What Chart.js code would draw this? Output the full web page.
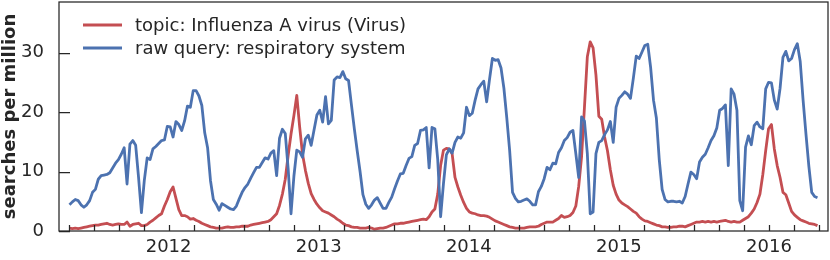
<!DOCTYPE html>
<html>
<head>
<meta charset="utf-8">
<script src="https://cdn.jsdelivr.net/npm/chart.js@4.4.1/dist/chart.umd.min.js"></script>
<style>
  html, body { margin: 0; padding: 0; background: #fff; }
  #wrap { width: 830px; height: 260px; }
</style>
</head>
<body>
<div id="wrap"><canvas id="chart" width="830" height="260"></canvas></div>
<script>
// weekly series, first week early May 2011 (decimal years on the x axis)
const firstWeek = 2011.34
const weekStep = 7 / 365.25

const seriesLabels = ["topic: Influenza A virus (Virus)", "raw query: respiratory system"]
const seriesColors = ["#C44E52", "#4C72B0"]

const influenzaA = [
  0.5, 0.4, 0.5, 0.4, 0.5, 0.6, 0.7, 0.8, 0.9, 1.0,
  1.0, 1.1, 1.2, 1.3, 1.1, 1.0, 1.1, 1.2, 1.1, 1.1,
  1.5, 0.8, 1.1, 1.2, 1.3, 0.9, 0.9, 1.1, 1.5, 1.8,
  2.2, 2.6, 2.9, 4.2, 5.3, 6.6, 7.4, 5.5, 3.6, 2.6,
  2.6, 2.4, 2.0, 2.1, 1.8, 1.6, 1.3, 1.1, 0.9, 0.7,
  0.6, 0.5, 0.5, 0.5, 0.6, 0.7, 0.6, 0.6, 0.7, 0.7,
  0.8, 0.8, 0.8, 1.0, 1.1, 1.2, 1.3, 1.4, 1.5, 1.6,
  1.9, 2.4, 2.9, 4.3, 6.2, 8.7, 12.7, 16.3, 19.4, 22.8,
  17.5, 12.9, 10.2, 8.0, 6.3, 5.3, 4.5, 3.9, 3.4, 3.2,
  3.0, 2.7, 2.4, 2.0, 1.7, 1.3, 1.0, 0.9, 0.7, 0.6,
  0.6, 0.5, 0.5, 0.5, 0.6, 0.5, 0.3, 0.4, 0.5, 0.5,
  0.6, 0.8, 1.0, 1.2, 1.2, 1.3, 1.3, 1.4, 1.5, 1.6,
  1.7, 1.8, 1.9, 2.0, 1.9, 2.4, 3.2, 3.7, 6.2, 11.0,
  13.6, 13.9, 13.8, 13.0, 9.0, 7.4, 6.0, 4.8, 3.8, 3.2,
  3.0, 2.9, 2.7, 2.6, 2.6, 2.5, 2.3, 2.0, 1.7, 1.5,
  1.3, 1.1, 0.9, 0.7, 0.6, 0.5, 0.5, 0.5, 0.5, 0.6,
  0.7, 0.7, 0.7, 0.8, 1.1, 1.3, 1.5, 1.5, 1.5, 1.8,
  2.1, 2.6, 2.3, 2.4, 2.6, 3.1, 4.2, 7.5, 12.5, 20.8,
  29.3, 31.8, 30.8, 26.2, 19.3, 18.8, 15.8, 13.5, 10.3, 7.7,
  6.2, 5.2, 4.7, 4.4, 4.1, 3.7, 3.3, 3.0, 2.4, 2.0,
  1.7, 1.6, 1.4, 1.2, 1.0, 0.9, 0.7, 0.7, 0.6, 0.6,
  0.7, 0.7, 0.8, 0.8, 0.7, 0.9, 1.1, 1.3, 1.5, 1.5,
  1.6, 1.5, 1.6, 1.5, 1.6, 1.5, 1.6, 1.7, 1.8, 1.6,
  1.5, 1.6, 1.5, 1.5, 1.8, 2.1, 2.4, 3.0, 3.7, 4.8,
  6.2, 9.5, 13.5, 17.2, 17.9, 13.8, 11.0, 9.0, 6.5, 6.1,
  4.7, 3.3, 2.7, 2.3, 1.9, 1.7, 1.5, 1.3, 1.2, 1.1,
  0.9
]

const respiratory = [
  4.4, 4.9, 5.3, 5.1, 4.4, 4.0, 4.4, 5.1, 6.5, 7.0,
  8.7, 9.3, 9.4, 9.5, 9.8, 10.6, 11.4, 12.0, 12.9, 14.0,
  7.9, 14.6, 15.2, 14.4, 9.0, 3.1, 8.5, 12.3, 12.0, 13.8,
  14.2, 14.7, 15.2, 15.3, 17.6, 17.5, 15.8, 18.4, 17.9, 16.9,
  18.5, 21.0, 20.8, 23.6, 23.6, 22.7, 21.1, 16.5, 14.0, 8.5,
  5.3, 4.5, 3.5, 4.6, 4.3, 4.0, 3.7, 3.6, 4.2, 5.4,
  6.5, 7.3, 7.9, 8.9, 9.8, 10.7, 10.7, 11.5, 12.3, 12.1,
  13.1, 13.5, 9.3, 15.6, 17.1, 16.4, 10.5, 2.9, 9.2, 13.6,
  13.3, 12.4, 15.5, 16.1, 14.4, 17.0, 19.5, 20.3, 18.3, 22.6,
  18.0, 18.6, 25.4, 25.9, 25.8, 26.8, 25.6, 25.3, 21.2, 17.2,
  13.5, 10.0, 6.1, 4.5, 3.8, 4.4, 5.2, 5.6, 4.7, 3.8,
  3.8, 4.8, 5.7, 7.1, 8.4, 9.6, 9.7, 11.0, 12.2, 12.5,
  14.4, 14.7, 16.9, 17.0, 17.4, 10.6, 17.4, 17.2, 12.0, 2.4,
  8.0, 12.8, 13.8, 13.1, 14.9, 15.8, 15.6, 16.5, 20.8, 19.4,
  19.8, 22.0, 23.9, 24.6, 25.2, 21.7, 25.5, 29.0, 28.7, 28.8,
  27.4, 24.0, 19.0, 13.5, 6.5, 5.5, 4.9, 5.0, 5.2, 5.4,
  5.0, 4.4, 4.4, 6.6, 7.5, 8.8, 10.7, 10.3, 11.4, 11.3,
  13.2, 14.0, 15.2, 15.7, 16.6, 16.9, 13.0, 9.0, 19.2, 18.5,
  13.0, 2.9, 3.2, 13.0, 14.9, 15.2, 16.2, 17.0, 18.4, 14.9,
  20.8, 22.3, 22.8, 23.4, 23.0, 22.3, 25.7, 29.4, 29.0, 30.1,
  31.2, 31.4, 27.5, 22.0, 19.0, 12.0, 7.0, 5.3, 4.9, 5.0,
  5.0, 4.9, 5.0, 4.7, 5.8, 7.9, 9.9, 9.5, 8.8, 11.6,
  12.4, 12.9, 14.0, 15.2, 16.0, 17.3, 20.3, 20.6, 21.2, 11.0,
  23.9, 23.0, 20.3, 5.1, 3.4, 14.1, 16.0, 14.5, 17.7, 18.3,
  17.5, 17.2, 23.9, 25.0, 24.9, 22.0, 20.5, 24.0, 29.2, 30.2,
  28.6, 29.0, 30.5, 31.5, 28.5, 22.0, 16.3, 10.9, 6.5, 5.8,
  5.6
]

const yearTicks = [2011, 2012, 2013, 2014, 2015, 2016]
const tickMonths = [0, 2, 4, 6, 8, 10]
const yTicks = [0, 10, 20, 30]

const weeks = respiratory.map((_, i) => firstWeek + i * weekStep)
const xMin = 2011.27, xMax = 2016.393
const xTickValues = []
yearTicks.forEach(y => tickMonths.forEach(m => {
  const v = y + m / 12
  if (v >= xMin && v <= xMax) xTickValues.push(v)
}))

const ink = "#262626"
Chart.defaults.font.family = "'DejaVu Sans', sans-serif"
Chart.defaults.font.size = 18
Chart.defaults.color = ink

// scales must not reserve extra room for their end labels
const noPad = scale => {
  scale.paddingTop = 0
  scale.paddingBottom = 0
  scale.paddingLeft = 0
  scale.paddingRight = 0
}

// frame, inward tick marks and the legend inside the plot
const axesDecor = {
  id: "axesDecor",
  afterDatasetsDraw(chart) {
    const { ctx, chartArea: a, scales: { x, y } } = chart
    ctx.save()
    ctx.strokeStyle = ink
    ctx.lineWidth = 1.25
    ctx.beginPath()
    x.ticks.forEach(t => {
      const px = Math.round(x.getPixelForValue(t.value)) + 0.5
      ctx.moveTo(px, a.bottom)
      ctx.lineTo(px, a.bottom - 6)
    })
    y.ticks.forEach(t => {
      const py = Math.round(y.getPixelForValue(t.value)) + 0.5
      ctx.moveTo(a.left, py)
      ctx.lineTo(a.left + 11, py)
    })
    ctx.stroke()
    ctx.strokeRect(a.left, a.top, a.right - a.left, a.bottom - a.top)

    // legend
    ctx.font = "18px 'DejaVu Sans', sans-serif"
    ctx.textBaseline = "middle"
    ctx.fillStyle = ink
    chart.data.datasets.forEach((ds, i) => {
      const ly = 25 + i * 23
      ctx.strokeStyle = ds.borderColor
      ctx.lineWidth = 2.8
      ctx.beginPath()
      ctx.moveTo(83, ly)
      ctx.lineTo(122, ly)
      ctx.stroke()
      ctx.fillText(ds.label, 135, ly + 1)
    })
    ctx.restore()
  }
}

new Chart(document.getElementById("chart"), {
  type: "line",
  data: {
    datasets: [
      {
        label: seriesLabels[0],
        data: weeks.map((w, i) => ({ x: w, y: influenzaA[i] })),
        borderColor: seriesColors[0],
        borderWidth: 2.8,
        pointRadius: 0,
        borderJoinStyle: "round",
        order: 1
      },
      {
        label: seriesLabels[1],
        data: weeks.map((w, i) => ({ x: w, y: respiratory[i] })),
        borderColor: seriesColors[1],
        borderWidth: 2.8,
        pointRadius: 0,
        borderJoinStyle: "round",
        order: 0
      }
    ]
  },
  options: {
    responsive: false,
    animation: false,
    layout: { padding: { left: 0, right: 2, top: 2, bottom: 0 } },
    plugins: { legend: { display: false }, tooltip: { enabled: false } },
    scales: {
      x: {
        type: "linear",
        min: xMin,
        max: xMax,
        afterBuildTicks: scale => { scale.ticks = xTickValues.map(v => ({ value: v })) },
        afterFit: scale => { scale.height = 29; noPad(scale) },
        grid: { display: false, drawTicks: false },
        border: { display: false },
        ticks: {
          autoSkip: false,
          maxRotation: 0,
          padding: 6,
          color: ink,
          callback: v => Number.isInteger(v) ? String(v) : ""
        }
      },
      y: {
        min: 0,
        max: 38.5,
        afterBuildTicks: scale => { scale.ticks = yTicks.map(v => ({ value: v })) },
        afterFit: scale => { scale.width = 59; noPad(scale) },
        grid: { display: false, drawTicks: false },
        border: { display: false },
        ticks: { padding: 15, color: ink },
        title: {
          display: true,
          text: "searches per million",
          color: ink,
          font: { size: 18, weight: "bold" },
          padding: 0
        }
      }
    }
  },
  plugins: [axesDecor]
})
</script>
</body>
</html>
